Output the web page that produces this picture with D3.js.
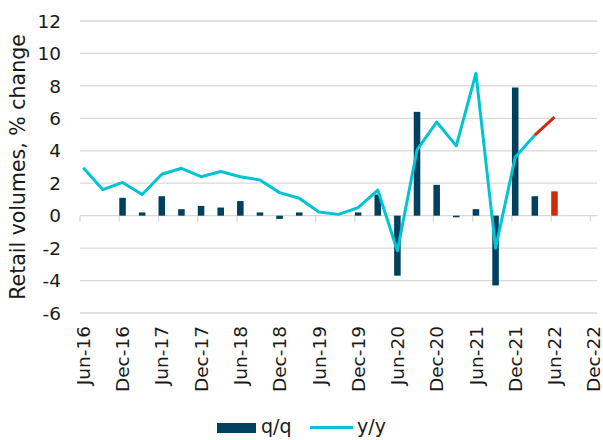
<!DOCTYPE html>
<html>
<head>
<meta charset="utf-8">
<script src="https://cdn.jsdelivr.net/npm/d3@7"></script>
<style>
  body { margin: 0; background: #fff; }
  svg text { font-family: "DejaVu Sans", Verdana, sans-serif; fill: #1a1a1a; }
</style>
</head>
<body>
<div id="chart"></div>
<script>
// quarterly observations
var quarters = ["Jun-16","Sep-16","Dec-16","Mar-17","Jun-17","Sep-17","Dec-17","Mar-18","Jun-18",
                "Sep-18","Dec-18","Mar-19","Jun-19","Sep-19","Dec-19","Mar-20","Jun-20","Sep-20",
                "Dec-20","Mar-21","Jun-21","Sep-21","Dec-21","Mar-22","Jun-22"];
var qq = [null, null, 1.1, 0.2, 1.2, 0.4, 0.6, 0.5, 0.9, 0.2, -0.2, 0.2, 0, 0, 0.2, 1.3,
          -3.7, 6.4, 1.9, -0.1, 0.4, -4.3, 7.9, 1.2, 1.5];
var yy = [2.95, 1.6, 2.05, 1.3, 2.55, 2.92, 2.4, 2.72, 2.4, 2.2, 1.42, 1.07, 0.23, 0.08, 0.5,
          1.58, -2.16, 4.05, 5.77, 4.3, 8.77, -2.0, 3.6, 4.97, 6.07];
var yTicks = [-6, -4, -2, 0, 2, 4, 6, 8, 10, 12];

var navy = "#00405f", cyan = "#00c4d4", red = "#d12b0b", grid = "#d9d9d9";

var width = 603, height = 440;
var svg = d3.select("#chart").append("svg")
    .attr("width", width)
    .attr("height", height);

// monthly slots, Excel style date axis
var fmt = d3.timeFormat("%b-%y");
var months = d3.timeMonth.range(new Date(2016, 5, 1), new Date(2023, 0, 1)).map(fmt);

var x = d3.scaleBand().domain(months).range([80, 597]).padding(0);
var y = d3.scaleLinear().domain([-6, 12]).range([313, 21]);

// gridlines
svg.append("g")
    .selectAll("line")
    .data(yTicks)
    .enter()
    .append("line")
    .attr("x1", 80).attr("x2", 597)
    .attr("y1", d => y(d)).attr("y2", d => y(d))
    .attr("stroke", grid)
    .attr("stroke-width", 1.3);

// y labels
svg.append("g")
    .selectAll("text")
    .data(yTicks)
    .enter()
    .append("text")
    .attr("x", 61)
    .attr("y", d => y(d))
    .attr("dy", "0.36em")
    .attr("text-anchor", "end")
    .style("font-size", "18.5px")
    .text(d => d);

// y title
svg.append("text")
    .attr("transform", "translate(25,167) rotate(-90)")
    .attr("text-anchor", "middle")
    .style("font-size", "20.5px")
    .text("Retail volumes, % change");

// x ticks every 6 months, on the zero line
var xTicks = months.filter((m, i) => i % 6 === 0);
svg.append("g")
    .selectAll("line")
    .data(xTicks)
    .enter()
    .append("line")
    .attr("x1", d => x(d)).attr("x2", d => x(d))
    .attr("y1", y(0)).attr("y2", y(0) + 6)
    .attr("stroke", grid)
    .attr("stroke-width", 1.3);

svg.append("g")
    .selectAll("text")
    .data(xTicks)
    .enter()
    .append("text")
    .attr("transform", d => `translate(${x(d) + x.bandwidth() / 2},326) rotate(-90)`)
    .attr("dy", "0.36em")
    .attr("text-anchor", "end")
    .style("font-size", "18.5px")
    .text(d => d);

// bars
var bars = quarters.map((q, i) => ({ q: q, v: qq[i], last: i === quarters.length - 1 }))
    .filter(d => d.v !== null && d.v !== 0);

svg.append("g")
    .selectAll("rect")
    .data(bars)
    .enter()
    .append("rect")
    .attr("x", d => x(d.q))
    .attr("width", x.bandwidth())
    .attr("y", d => y(Math.max(0, d.v)))
    .attr("height", d => Math.abs(y(d.v) - y(0)))
    .attr("fill", d => d.last ? red : navy);

// y/y line
var pts = quarters.map((q, i) => [x(q) + x.bandwidth() / 2, y(yy[i])]);
var line = d3.line();
var n = pts.length;

svg.append("path")
    .attr("d", line(pts.slice(0, n - 1)))
    .attr("fill", "none")
    .attr("stroke", cyan)
    .attr("stroke-width", 3)
    .attr("stroke-linejoin", "round");

svg.append("path")
    .attr("d", line(pts.slice(n - 2)))
    .attr("fill", "none")
    .attr("stroke", red)
    .attr("stroke-width", 3);

// legend
var lg = svg.append("g");
lg.append("rect")
    .attr("x", 217).attr("y", 423)
    .attr("width", 39).attr("height", 10)
    .attr("fill", navy);
lg.append("text")
    .attr("x", 261).attr("y", 433)
    .style("font-size", "19px")
    .text("q/q");
lg.append("line")
    .attr("x1", 310).attr("x2", 353)
    .attr("y1", 427.5).attr("y2", 427.5)
    .attr("stroke", cyan)
    .attr("stroke-width", 3);
lg.append("text")
    .attr("x", 357).attr("y", 433)
    .style("font-size", "19px")
    .text("y/y");
</script>
</body>
</html>
